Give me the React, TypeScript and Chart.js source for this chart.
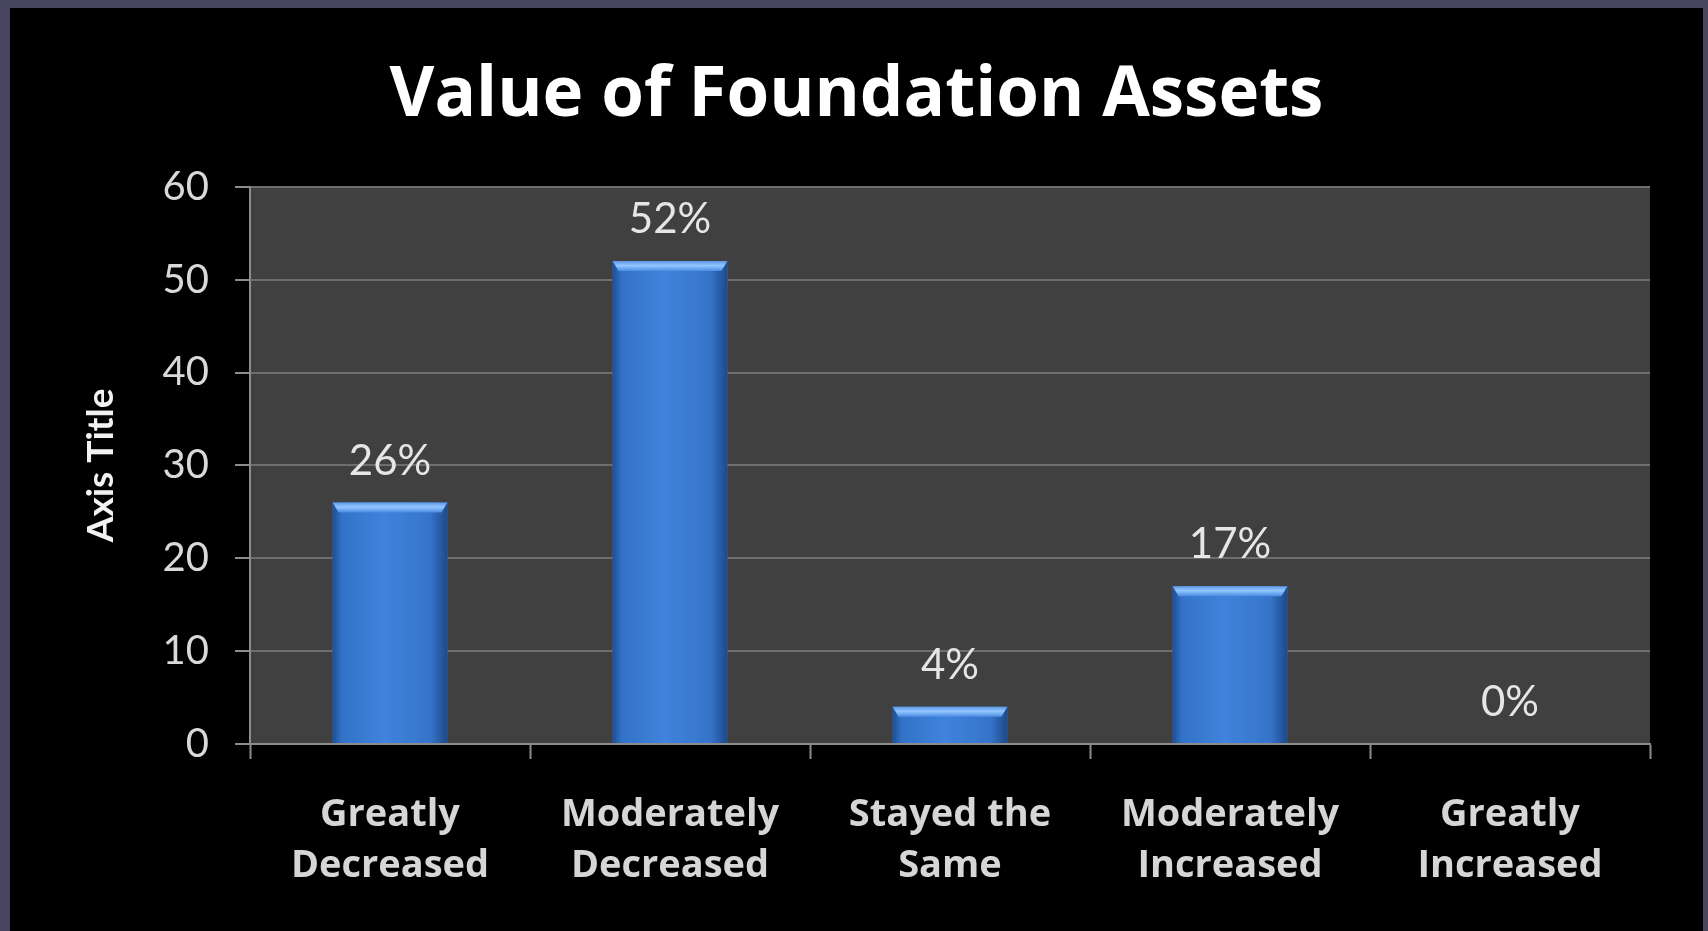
import React, { useEffect, useRef } from "react";
import { Chart, registerables } from "chart.js";

Chart.register(...registerables);

const chartTitle = "Value of Foundation Assets";
const yAxisTitle = "Axis Title";
const categories: string[][] = [
  ["Greatly", "Decreased"],
  ["Moderately", "Decreased"],
  ["Stayed the", "Same"],
  ["Moderately", "Increased"],
  ["Greatly", "Increased"],
];
const values: number[] = [26, 52, 4, 17, 0];
const valueLabels: string[] = ["26%", "52%", "4%", "17%", "0%"];
const yTicks = { min: 0, max: 60, step: 10 };

const FONT = "Lato, 'Open Sans', 'DejaVu Sans', sans-serif";
const WIDE = "'Open Sans', Lato, 'DejaVu Sans', sans-serif";

const plotBgPlugin = {
  id: "plotBg",
  beforeDraw(chart: any) {
    const { ctx, chartArea } = chart;
    if (!chartArea) return;
    ctx.save();
    ctx.fillStyle = "#404040";
    ctx.fillRect(chartArea.left, chartArea.top, chartArea.right - chartArea.left, chartArea.bottom - chartArea.top);
    ctx.restore();
  },
};

const barShadePlugin = {
  id: "barShade",
  afterDatasetsDraw(chart: any) {
    const { ctx } = chart;
    const meta = chart.getDatasetMeta(0);
    ctx.save();
    meta.data.forEach((el: any) => {
      const { x, y, base, width } = el.getProps(["x", "y", "base", "width"], true);
      const h = base - y;
      if (h <= 0.5) return;
      const l = x - width / 2;
      const g = ctx.createLinearGradient(l, 0, l + width, 0);
      g.addColorStop(0, "#1f4f92");
      g.addColorStop(0.08, "#3372c8");
      g.addColorStop(0.45, "#4083dc");
      g.addColorStop(0.85, "#3674ca");
      g.addColorStop(1, "#1d4a8a");
      ctx.fillStyle = g;
      ctx.fillRect(l, y, width, h);
      const capH = Math.min(10, h);
      const g2 = ctx.createLinearGradient(0, y, 0, y + capH);
      g2.addColorStop(0, "#5f9ae6");
      g2.addColorStop(0.45, "#92c6ff");
      g2.addColorStop(1, "#4a8ce2");
      ctx.fillStyle = g2;
      ctx.beginPath();
      ctx.moveTo(l, y);
      ctx.lineTo(l + width, y);
      ctx.lineTo(l + width - 6, y + capH);
      ctx.lineTo(l + 6, y + capH);
      ctx.closePath();
      ctx.fill();
    });
    ctx.restore();
  },
};

const valueLabelPlugin = {
  id: "valueLabels",
  afterDatasetsDraw(chart: any) {
    const { ctx } = chart;
    const meta = chart.getDatasetMeta(0);
    ctx.save();
    ctx.font = `42px ${FONT}`;
    ctx.fillStyle = "#e6e6e6";
    ctx.textAlign = "center";
    ctx.textBaseline = "alphabetic";
    meta.data.forEach((el: any, i: number) => {
      const { x, y } = el.getProps(["x", "y"], true);
      ctx.fillText(valueLabels[i], x, y - 28);
    });
    ctx.restore();
  },
};

export default function App() {
  const ref = useRef<HTMLCanvasElement | null>(null);

  useEffect(() => {
    document.body.style.margin = "0";
    document.body.style.background = "#46445f";
    if (!ref.current) return;
    const chart = new Chart(ref.current, {
      type: "bar",
      data: {
        labels: categories,
        datasets: [
          {
            data: values,
            backgroundColor: "#3a77cc",
            borderWidth: 0,
            barPercentage: 0.41,
            categoryPercentage: 1,
          },
        ],
      },
      plugins: [plotBgPlugin, barShadePlugin, valueLabelPlugin],
      options: {
        responsive: false,
        animation: false,
        devicePixelRatio: 1,
        layout: { padding: 0 },
        plugins: {
          legend: { display: false },
          tooltip: { enabled: false },
          title: {
            display: true,
            text: chartTitle,
            color: "#ffffff",
            font: { family: WIDE, size: 69, weight: "bold", lineHeight: 1.2 },
            padding: { top: 47, bottom: 49 },
          },
        },
        scales: {
          x: {
            grid: {
              display: true,
              drawOnChartArea: false,
              drawTicks: true,
              tickLength: 15,
              tickWidth: 2,
              tickColor: "#8c8c8c",
              offset: true,
            },
            border: { display: true, color: "#8c8c8c", width: 2 },
            ticks: {
              color: "#d6d6d6",
              font: { family: WIDE, size: 38, weight: "bold", lineHeight: 1.33 },
              padding: 31,
              maxRotation: 0,
              autoSkip: false,
            },
            afterFit(scale: any) {
              scale.height = 187;
            },
          },
          y: {
            min: yTicks.min,
            max: yTicks.max,
            grid: {
              color: "#6e6e6e",
              lineWidth: 2,
              drawTicks: true,
              tickLength: 15,
              tickColor: "#8c8c8c",
            },
            border: { display: true, color: "#8c8c8c", width: 2 },
            ticks: {
              stepSize: yTicks.step,
              color: "#d9d9d9",
              font: { family: FONT, size: 40 },
              padding: 26,
            },
            title: {
              display: true,
              text: yAxisTitle,
              color: "#f2f2f2",
              font: { family: FONT, size: 37, weight: "bold", lineHeight: 1.2 },
              padding: { top: 69, bottom: 0 },
            },
            afterFit(scale: any) {
              scale.width = 240;
            },
          },
          yRight: {
            position: "right",
            display: true,
            grid: { display: false, drawTicks: false },
            border: { display: false },
            ticks: { display: false },
            afterFit(scale: any) {
              scale.width = 53;
            },
          },
        },
      },
    });
    return () => chart.destroy();
  }, []);

  return (
    <div style={{ position: "relative", width: 1708, height: 931, background: "#46445f", overflow: "hidden" }}>
      <div style={{ position: "absolute", left: 10, top: 8, width: 1693, height: 923, background: "#000000" }}>
        <canvas ref={ref} width={1693} height={923} style={{ display: "block" }} />
      </div>
    </div>
  );
}
